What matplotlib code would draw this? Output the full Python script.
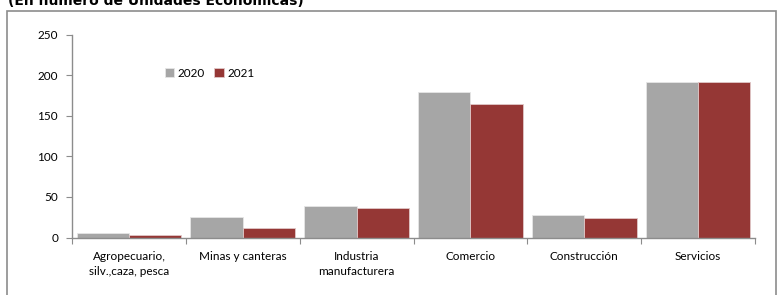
import matplotlib
matplotlib.use("Agg")
import matplotlib.pyplot as plt
import numpy as np
from matplotlib.patches import Rectangle

categories = ["Agropecuario,\nsilv.,caza, pesca", "Minas y canteras", "Industria\nmanufacturera",
              "Comercio", "Construcción", "Servicios"]
v2020 = [5, 25, 39, 179, 28, 191]
v2021 = [3, 12, 36, 164, 24, 191]
yticks = [0, 50, 100, 150, 200, 250]

W, H = 779, 295
fig = plt.figure(figsize=(W / 100, H / 100), dpi=100)
plt.rcParams['font.family'] = ['Lato', 'DejaVu Sans']

# outer frame
fig.patches.append(Rectangle((7 / W, -0.1), (776 - 7) / W, 1.1 - 11 / H, transform=fig.transFigure,
                             fill=False, edgecolor="#8c8c8c", linewidth=1.2))
fig.text(8 / W, 1 - 5 / H, "(En número de Unidades Económicas)", fontsize=10, fontweight="bold",
         family="DejaVu Sans", va="baseline", ha="left")

x0, x1 = 72, 755
y0, y1 = 237.5, 34.5
ax = fig.add_axes([x0 / W, 1 - y0 / H, (x1 - x0) / W, (y0 - y1) / H])
x = np.arange(len(categories))
bw = 0.46
ax.bar(x - bw / 2, v2020, bw, color="#A6A6A6", edgecolor="#e6e6e6", linewidth=0.6, label="2020")
ax.bar(x + bw / 2, v2021, bw, color="#953735", edgecolor="#e0c8c8", linewidth=0.6, label="2021")
ax.set_xlim(-0.5, len(categories) - 0.5)
ax.set_ylim(0, 250)
ax.set_yticks(yticks)
ax.set_yticklabels([str(t) for t in yticks], fontsize=8.5)
for s in ["top", "right"]:
    ax.spines[s].set_visible(False)
for s in ["left", "bottom"]:
    ax.spines[s].set_color("#8c8c8c")
    ax.spines[s].set_linewidth(1.0)
ax.tick_params(axis="y", length=4, color="#8c8c8c", pad=6)
ax.set_xticks(np.arange(len(categories) + 1) - 0.5, minor=False)
ax.set_xticklabels([])
ax.tick_params(axis="x", which="major", length=4, color="#8c8c8c")
ax.set_xticks(x, minor=True)
ax.set_xticklabels(categories, minor=True, fontsize=8.5, linespacing=1.35)
ax.tick_params(axis="x", which="minor", length=0, pad=10)
for lbl in ax.get_xticklabels(minor=True):
    lbl.set_va("top")
ax.legend(loc="upper left", bbox_to_anchor=((160 - x0) / (x1 - x0), (y0 - 63) / (y0 - y1)),
          ncol=2, frameon=False, fontsize=8.5, handlelength=0.8, handleheight=0.8,
          handletextpad=0.3, columnspacing=0.8, borderaxespad=0)
fig.savefig("out.png", dpi=100)
